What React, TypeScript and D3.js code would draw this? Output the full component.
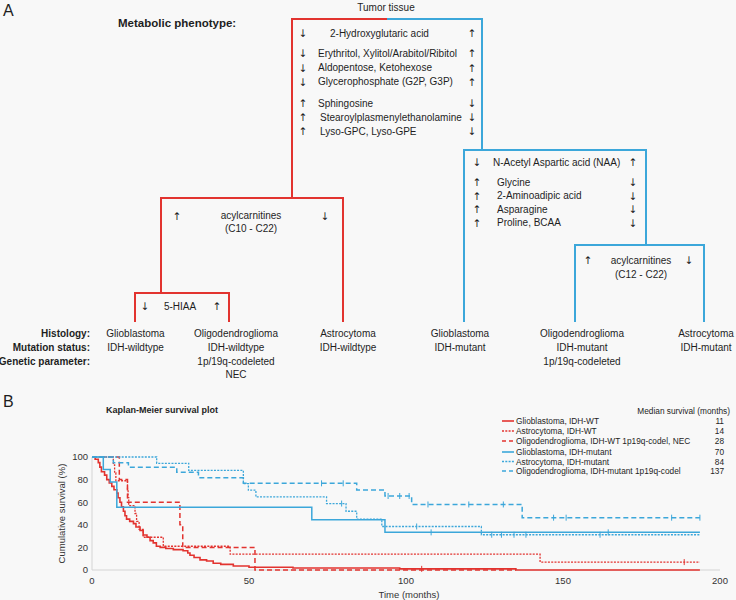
import React from 'react';
import * as d3 from 'd3';

const W = 736;
const H = 600;
const RED = '#e2332f';
const BLUE = '#3ca7da';
const TXT = '#1e1e1e';
const FONT = '"Liberation Sans", Arial, Helvetica, sans-serif';
const ARROW_FONT = '"DejaVu Sans", "Noto Sans", sans-serif';

// ---------- Panel A data ----------
const rootLabel = 'Tumor tissue';
const phenotypeTitle = 'Metabolic phenotype:';
const topLeftArrows = ['↓', '↓', '↓', '↓', '↑', '↑', '↑'];
const topMetabolites = [
  '2-Hydroxyglutaric acid',
  'Erythritol, Xylitol/Arabitol/Ribitol',
  'Aldopentose, Ketohexose',
  'Glycerophosphate (G2P, G3P)',
  'Sphingosine',
  'Stearoylplasmenylethanolamine',
  'Lyso-GPC, Lyso-GPE',
];
const topRightArrows = ['↑', '↑', '↑', '↑', '↓', '↓', '↓'];

const idhLeftArrows = ['↓', '↑', '↑', '↑', '↑'];
const idhMetabolites = ['N-Acetyl Aspartic acid (NAA)', 'Glycine', '2-Aminoadipic acid', 'Asparagine', 'Proline, BCAA'];
const idhRightArrows = ['↑', '↓', '↓', '↓', '↓'];

const wtAcyl = ['acylcarnitines', '(C10 - C22)'];
const mutAcyl = ['acylcarnitines', '(C12 - C22)'];
const hiaa = '5-HIAA';

const rowTitles = ['Histology:', 'Mutation status:', 'Genetic parameter:'];
const histology = ['Glioblastoma', 'Oligodendroglioma', 'Astrocytoma', 'Glioblastoma', 'Oligodendroglioma', 'Astrocytoma'];
const mutation = ['IDH-wildtype', 'IDH-wildtype', 'IDH-wildtype', 'IDH-mutant', 'IDH-mutant', 'IDH-mutant'];
const genetic = [[], ['1p/19q-codeleted', 'NEC'], [], [], ['1p/19q-codeleted'], []];

// ---------- Panel B data ----------
const kmTitle = 'Kaplan-Meier survival plot';
const kmNames = [
  'Glioblastoma, IDH-WT',
  'Astrocytoma, IDH-WT',
  'Oligodendroglioma, IDH-WT 1p19q-codel, NEC',
  'Glioblastoma, IDH-mutant',
  'Astrocytoma, IDH-mutant',
  'Oligodendroglioma, IDH-mutant 1p19q-codel',
];
const kmMedians = [11, 14, 28, 70, 84, 137];
const xTicks = [0, 50, 100, 150, 200];
const yTicks = [0, 20, 40, 60, 80, 100];

// step changes [time (months), survival (%)]
const gbmWtSteps: [number, number][] = [
  [1, 98], [2, 95], [2.5, 91], [3, 87], [4, 84], [4.7, 80], [5.5, 77], [6.3, 74], [7, 71], [7.9, 68],
  [8.3, 64], [8.9, 60], [9.4, 56], [10, 52], [10.5, 48], [11, 45], [12, 43], [13.2, 41], [14, 38],
  [15.3, 35], [16.3, 31], [17.5, 29], [18.5, 26], [19.5, 24], [20.5, 21], [21.7, 20], [23.5, 19],
  [25.9, 18], [29, 17], [30.5, 15], [31.2, 13], [32.5, 11], [34.4, 9], [36.5, 8], [38.6, 6], [41, 5],
  [45, 3.5], [50, 2.5], [64, 1.8], [98, 1], [135, 0],
];
const gbmWtEnd = 193.6;
const gbmWtCensor = [105];

const astroWtSteps: [number, number][] = [
  [6.8, 93], [7.2, 86], [7.6, 79], [11.3, 71], [11.5, 64], [11.7, 57], [13.7, 50], [14.2, 43], [15, 36],
  [16.3, 29], [22.7, 21], [44, 14], [142.7, 7],
];
const astroWtEnd = 193.6;
const astroWtCensor = [188.6];

const oligoWtSteps: [number, number][] = [[8.7, 80], [11.3, 60], [28, 40], [28.9, 20], [51.9, 0]];
const oligoWtEnd = 135;
const oligoWtCensor: number[] = [];

const gbmMutSteps: [number, number][] = [[3.6, 88.9], [5.8, 77.8], [7.9, 55.6], [70, 44.4], [93.3, 33.3]];
const gbmMutEnd = 193.6;
const gbmMutCensor = [108, 164.4];

const astroMutSteps: [number, number][] = [
  [20.6, 94.4], [30.8, 88.2], [48.2, 76.5], [49.8, 70.6], [52.2, 64.7], [74.7, 58.8], [80.9, 52],
  [84.3, 45], [92.3, 38.5], [124, 31.2],
];
const astroMutEnd = 193.6;
const astroMutCensor = [79.5, 103.4, 127.3, 130.4, 134.4, 138.2, 161.8];

const oligoMutSteps: [number, number][] = [
  [6.8, 95], [11.6, 91], [27, 86.5], [33.9, 81.7], [48.2, 76.7], [84.3, 70.8], [93.3, 65.5], [101.8, 58], [137, 46.3],
];
const oligoMutEnd = 193.6;
const oligoMutCensor = [73.1, 80, 94.3, 98, 101, 107, 120, 131, 147, 151, 184.6, 193.6];

const kmSteps = [gbmWtSteps, astroWtSteps, oligoWtSteps, gbmMutSteps, astroMutSteps, oligoMutSteps];
const kmEnds = [gbmWtEnd, astroWtEnd, oligoWtEnd, gbmMutEnd, astroMutEnd, oligoMutEnd];
const kmCensors = [gbmWtCensor, astroWtCensor, oligoWtCensor, gbmMutCensor, astroMutCensor, oligoMutCensor];
const kmColors = [RED, RED, RED, BLUE, BLUE, BLUE];
const kmDash = ['none', '2,1.3', '5,3', 'none', '2,1.3', '5,3'];
const kmWidth = [1.6, 1.3, 1.5, 1.5, 1.3, 1.5];

function survAt(steps: [number, number][], t: number) {
  let s = 100;
  for (const [tt, ss] of steps) if (tt <= t) s = ss;
  return s;
}

const T = (p: any) => <text fontFamily={FONT} fill={TXT} {...p} />;
const Arrow = (p: any) => (
  <text fontFamily={ARROW_FONT} fill={TXT} fontSize={10.5} textAnchor="middle" {...p} />
);

export default function App() {
  const x = d3.scaleLinear().domain([0, 200]).range([92, 720]);
  const y = d3.scaleLinear().domain([0, 100]).range([570, 457]);
  const line = d3
    .line<[number, number]>()
    .x((d) => x(d[0]))
    .y((d) => y(d[1]))
    .curve(d3.curveStepAfter);

  const paths = kmSteps.map((steps, i) => {
    const pts: [number, number][] = [[0, 100], ...steps];
    pts.push([kmEnds[i], steps[steps.length - 1][1]]);
    return line(pts) || '';
  });

  const topRowY = [33, 53, 67.5, 81.5, 103, 117, 131];
  const idhRowY = [162, 182, 195.5, 209, 222.5];
  const colX = [135.5, 236, 348, 460, 582, 706];
  const rowY = [333, 347, 361, 374.5];

  const legendY = [421, 431, 441, 452, 461.5, 471];

  return (
    <svg width={W} height={H} style={{ position: 'absolute', left: 0, top: 0 }} fontFamily={FONT}>
      <rect width={W} height={H} fill="#f8f8f8" />
      {/* ---------- Panel A ---------- */}
      <T x={3} y={16} fontSize={16}>A</T>
      <T x={118} y={27} fontSize={11.5} fontWeight="bold">{phenotypeTitle}</T>
      <T x={386} y={11} fontSize={10} textAnchor="middle">{rootLabel}</T>

      <g fill="none" strokeWidth={2} strokeLinejoin="miter">
        <path d="M387,19 H292 V198" stroke={RED} />
        <path d="M161,293 V198 H343 V322" stroke={RED} />
        <path d="M135,322 V293 H229 V322" stroke={RED} />
        <path d="M387,19 H482 V150" stroke={BLUE} />
        <path d="M464,322 V150 H646 V245" stroke={BLUE} />
        <path d="M575,322 V245 H704 V322" stroke={BLUE} />
      </g>

      {topMetabolites.map((m, i) => (
        <g key={'t' + i}>
          <Arrow x={303} y={topRowY[i] + 4}>{topLeftArrows[i]}</Arrow>
          <T x={i === 0 ? 330 : i >= 5 ? 320 : 318} y={topRowY[i] + 3.6} fontSize={10}>{m}</T>
          <Arrow x={472} y={topRowY[i] + 4}>{topRightArrows[i]}</Arrow>
        </g>
      ))}

      {idhMetabolites.map((m, i) => (
        <g key={'n' + i}>
          <Arrow x={477} y={idhRowY[i] + 4}>{idhLeftArrows[i]}</Arrow>
          <T x={i === 0 ? 493 : 497} y={idhRowY[i] + 3.6} fontSize={10}>{m}</T>
          <Arrow x={633} y={idhRowY[i] + 4}>{idhRightArrows[i]}</Arrow>
        </g>
      ))}

      <Arrow x={177} y={220}>↑</Arrow>
      <T x={251} y={218.6} fontSize={10} textAnchor="middle">{wtAcyl[0]}</T>
      <T x={251} y={231.6} fontSize={10} textAnchor="middle">{wtAcyl[1]}</T>
      <Arrow x={325} y={220}>↓</Arrow>

      <Arrow x={588} y={264}>↑</Arrow>
      <T x={641} y={263.6} fontSize={10} textAnchor="middle">{mutAcyl[0]}</T>
      <T x={641} y={277.6} fontSize={10} textAnchor="middle">{mutAcyl[1]}</T>
      <Arrow x={689} y={264}>↓</Arrow>

      <Arrow x={145} y={310}>↓</Arrow>
      <T x={180} y={309.6} fontSize={10} textAnchor="middle">{hiaa}</T>
      <Arrow x={217} y={310}>↑</Arrow>

      {rowTitles.map((r, i) => (
        <T key={'r' + i} x={90} y={rowY[i] + 3.6} fontSize={10} fontWeight="bold" textAnchor="end">{r}</T>
      ))}
      {histology.map((h, i) => (
        <g key={'h' + i}>
          <T x={colX[i]} y={rowY[0] + 3.6} fontSize={10} textAnchor="middle">{h}</T>
          <T x={colX[i]} y={rowY[1] + 3.6} fontSize={10} textAnchor="middle">{mutation[i]}</T>
          {genetic[i].map((g, j) => (
            <T key={j} x={colX[i]} y={rowY[2 + j] + 3.6} fontSize={10} textAnchor="middle">{g}</T>
          ))}
        </g>
      ))}

      {/* ---------- Panel B ---------- */}
      <T x={3} y={407} fontSize={16}>B</T>
      <T x={106} y={413} fontSize={9} fontWeight="bold">{kmTitle}</T>

      <T x={730} y={414} fontSize={8.3} textAnchor="end">Median survival (months)</T>
      {kmNames.map((n, i) => (
        <g key={'l' + i}>
          <line x1={502} x2={514} y1={legendY[i]} y2={legendY[i]} stroke={kmColors[i]} strokeWidth={1.6}
            strokeDasharray={kmDash[i] === 'none' ? undefined : i % 3 === 2 ? '4,3' : '2,1.3'} />
          <T x={516} y={legendY[i] + 3} fontSize={8.3}>{n}</T>
          <T x={724} y={legendY[i] + 3} fontSize={8.3} textAnchor="end">{kmMedians[i]}</T>
        </g>
      ))}

      {/* axes */}
      <line x1={x(0)} x2={x(200)} y1={y(0)} y2={y(0)} stroke="#d4d4d4" strokeWidth={1} />
      <line x1={x(0)} x2={x(0)} y1={y(0)} y2={y(100)} stroke="#d4d4d4" strokeWidth={1} />
      {yTicks.map((t) => (
        <T key={'y' + t} x={88} y={y(t) + 3.4} fontSize={9.5} textAnchor="end" fill="#333">{t}</T>
      ))}
      {xTicks.map((t) => (
        <T key={'x' + t} x={x(t)} y={584} fontSize={9.5} textAnchor="middle" fill="#333">{t}</T>
      ))}
      <T x={409} y={598} fontSize={9.5} textAnchor="middle" fill="#333">Time (months)</T>
      <T transform={`translate(65,${y(50)}) rotate(-90)`} fontSize={9.5} textAnchor="middle" fill="#333">
        Cumulative survival (%)
      </T>

      {paths.map((d, i) => (
        <path key={'p' + i} d={d} fill="none" stroke={kmColors[i]} strokeWidth={kmWidth[i]}
          strokeDasharray={kmDash[i] === 'none' ? undefined : kmDash[i]} />
      ))}
      {kmCensors.map((cs, i) =>
        cs.map((c, j) => {
          const s = survAt(kmSteps[i], c);
          return (
            <line key={'c' + i + '-' + j} x1={x(c)} x2={x(c)} y1={y(s) - 3} y2={y(s) + 3}
              stroke={kmColors[i]} strokeWidth={1} />
          );
        })
      )}
    </svg>
  );
}
